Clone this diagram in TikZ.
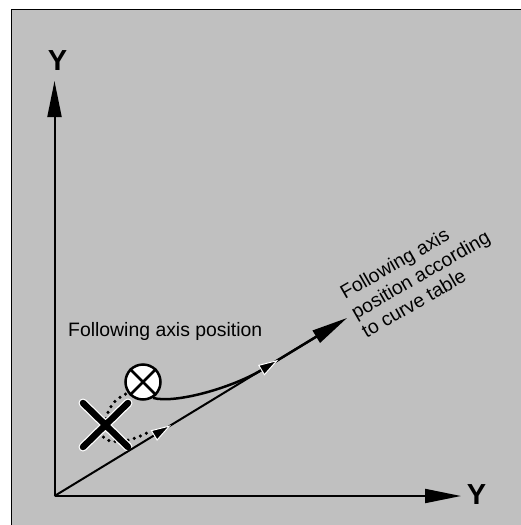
\documentclass[tikz,border=0pt]{standalone}
\usepackage{fontspec}
\setmainfont{Liberation Sans}
\usetikzlibrary{arrows.meta,decorations.markings,calc}
\definecolor{bg}{HTML}{C0C0C0}
\tikzset{
  smallhead/.tip={Triangle[length=20pt,width=12pt,color=white,fill=black,line width=1pt]},
  bighead/.tip={Triangle[length=36pt,width=14pt]},
  axis/.style={line width=2pt},
  lbl/.style={font=\fontsize{19.4}{22}\selectfont, inner sep=0pt},
  rlbl/.style={lbl, anchor=base west, rotate=30},
  ylbl/.style={font=\fontsize{29}{30}\selectfont\bfseries, inner sep=0pt},
  dotline/.style={line width=3.5pt, dash pattern=on 0pt off 6.5pt, line cap=round},
  xhalo/.style={line width=9pt, white, line cap=round},
  xbar/.style={line width=6.5pt, black, line cap=round},
  probe/.style={circle, draw, fill=white, line width=2.5pt, minimum size=35pt, inner sep=0pt},
}
\begin{document}
\begin{tikzpicture}[x=1pt,y=-1pt]
\useasboundingbox (0,0) rectangle (521,525);
\fill[bg] (11,9) rectangle (521,525);
\draw[line width=1pt] (11,525) -- (11,9) -- (521,9);

\coordinate (O) at (54.5,496);
\coordinate (T) at (54.5,81);
\coordinate (R) at (461,496);
\coordinate (D) at (347,318);
\coordinate (M) at ($(O)!0.71!(D)$);
\coordinate (E) at ($(O)!0.9!(D)$);
\coordinate (A) at (151,430.5);
\coordinate (XC) at (105,425);
\coordinate (X1) at (83,403);
\coordinate (X2) at (128,447);
\coordinate (X3) at (128,403);
\coordinate (X4) at (83,447);

% axes
\draw[axis,-bighead] (O) -- (T);
\draw[axis,-bighead] (O) -- (R);
\node[ylbl] (YT) at (57.5,60.5) {Y};
\node[ylbl] (YR) at (476.5,494.5) {Y};

% probe circle
\node[probe] (C) at (143,382) {};
\draw[line width=2.5pt] (C.45) -- (C.225) (C.135) -- (C.315);

% dotted paths
\draw[dotline] (XC) .. controls (107,408) and (114,399) .. (C.216);
\draw[dotline] (XC) .. controls (92,445) and (125,447) .. (A);

% X mark
\draw[xhalo] (X1) -- (X2) (X3) -- (X4);
\draw[xbar] (X1) -- (X2) (X3) -- (X4);

% curve from probe to table position
\draw[line width=2.5pt] (C.-58) .. controls (175,404) and (232.3,387.8) .. (M) -- (E);

% diagonal
\draw[axis,-bighead, postaction={decorate},
  decoration={markings,
    mark=at position 0.398 with {\arrow{smallhead}},
    mark=at position 0.765 with {\arrow{smallhead}}}] (O) -- (D);

% labels
\node[lbl, anchor=base west] (L1) at (68,336) {Following axis position};
\node[rlbl] (L2a) at (345,300) {Following axis};
\node[rlbl] (L2b) at (356,319.5) {position according};
\node[rlbl] (L2c) at (366.5,338.5) {to curve table};
\end{tikzpicture}
\end{document}
